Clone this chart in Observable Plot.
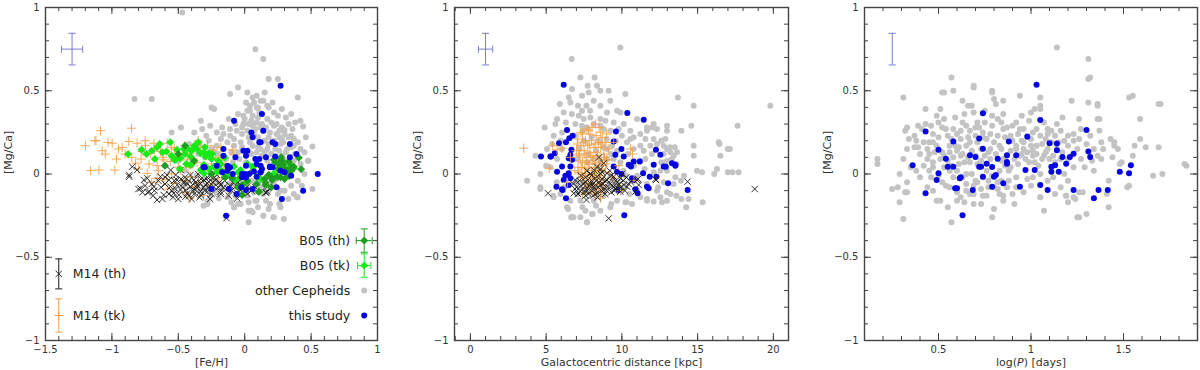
<!DOCTYPE html>
<html><head><meta charset="utf-8">
<script src="https://cdn.jsdelivr.net/npm/d3@7"></script>
<script src="https://cdn.jsdelivr.net/npm/@observablehq/plot@0.6"></script>
<style>
body{margin:0;background:#fff}
#row{display:flex;width:1200px;height:370px;overflow:hidden}
#row svg{flex:none;overflow:visible}
</style>
</head><body><div id="row"></div>
<script>
// ---------- tick labels ----------
const yTicks = [-1, -0.5, 0, 0.5, 1];
const xTicksFeH = [-1.5, -1, -0.5, 0, 0.5, 1];
const xTicksRgc = [0, 5, 10, 15, 20];
const xTicksLogP = [0.5, 1, 1.5];
const yLabel = "[Mg/Ca]";
const xLabels = ["[Fe/H]", "Galactocentric distance [kpc]", "log(P) [days]"];

// ---------- legend ----------
const legendRightLabels = ["B05 (th)", "B05 (tk)", "other Cepheids", "this study"];
const legendRightY = [-0.40, -0.55, -0.70, -0.85];
const legendRightX = 0.9;
const legendLeftLabels = ["M14 (th)", "M14 (tk)"];
const legendLeftY = [-0.60, -0.85];
const legendLeftX = -1.4;
const legendLeftYErr = [0.09, 0.10];
const legendRightXErr = [0.06, 0.05];
const legendRightYErr = [0.07, 0.07];

// typical error bars (top-left of each panel): x, y, xerr, yerr
const typErrX = [-1.3, 1.0, 0.25];
const typErrY = [0.75, 0.75, 0.75];
const typErrXErr = [0.08, 0.47, 0];
const typErrYErr = [0.095, 0.095, 0.095];

// ---------- panel 1: [Fe/H] vs [Mg/Ca] ----------
const fehOther = [[-0.47,0.97],[0.08,0.75],[0.14,0.69],[0.18,0.57],[0.25,0.57],[-0.05,0.52],[0.02,0.49],[0.40,0.46],[-0.83,0.45],[-0.70,0.45],[-0.25,0.40],[-0.23,0.39],[-0.11,0.48],[-0.33,0.32],[-0.55,0.25],[-0.48,0.28],[0.51,0.165],[0.475,0.08],[0.44,0.285],[0.42,0.32],[0.30,0.265],
[0.51,-0.09],[0.395,-0.14],[0.295,-0.27],[0.215,-0.26],[0.14,-0.25],[0.03,-0.29],[0.03,-0.22],[0.05,-0.22],[-0.08,-0.20],[-0.05,-0.18],[-0.28,-0.18],[-0.195,-0.146],[0.16,-0.16],[0.26,-0.18],[0.08,-0.16],[-0.32,0.27],[0.09,0.47],[0.15,0.49],
[0.07,0.43],[0.04,0.41],[0.01,0.43],[0.02,0.38],[0.12,0.44],[0.09,0.40],[0.06,0.35],[-0.01,0.35],[0.09,0.31],[0.17,0.33],[0.22,0.29],[0.26,0.26],[0.30,0.24],[0.35,0.23],[0.37,0.21],[0.37,0.17],[0.22,0.37],[0.17,0.41],[0.14,0.26],[-0.01,0.30],[-0.06,0.26],[-0.11,0.23],[-0.13,0.19],[-0.18,0.21],[-0.21,0.17],[-0.23,0.13],[-0.17,0.28],[-0.08,0.21],[-0.03,0.19],[0.04,0.19],[0.12,0.15],[0.17,0.15],[0.32,0.15],[0.37,0.08],[0.32,0.04],[0.27,0.04],[0.37,-0.12],[0.40,-0.14],[0.22,-0.06],[0.14,-0.12],[0.09,-0.16],[0.02,-0.13],[-0.03,-0.18],[-0.08,-0.20],[-0.13,-0.14],[-0.21,-0.12],[-0.26,-0.13],[-0.28,-0.16],[-0.31,-0.19],[-0.08,-0.08],[-0.01,-0.06],[0.12,-0.08],[0.19,-0.18],[0.27,-0.20],[0.22,-0.26],[0.14,-0.25],[0.06,-0.23],[-0.11,-0.10],[-0.18,-0.06],[-0.23,-0.05],[-0.28,-0.08],[-0.33,-0.10],[-0.36,-0.01],[-0.02,0.24],[-0.11,0.27],[0.06,0.29],[0.12,0.28],[0.18,0.22],[0.27,0.18],[0.28,0.21],[0.40,0.19],[0.42,0.15],[0.45,0.13],
[0.0,0.33],[0.03,0.30],[0.05,0.32],[0.08,0.27],[0.10,0.34],[0.13,0.30],[0.16,0.28],[0.20,0.31],[0.19,0.25],[0.24,0.24],[0.22,0.20],[0.26,0.14],[0.28,0.11],[0.30,0.08],[0.25,0.07],[0.20,0.12],[0.15,0.13],[0.10,0.16],[0.06,0.17],[0.03,0.22],[-0.02,0.16],[-0.05,0.13],[-0.08,0.17],[-0.10,0.13],[-0.14,0.09],[-0.18,0.08],[-0.20,0.12],[-0.25,0.15],[-0.27,0.20],[-0.30,0.10],[-0.35,0.12],[-0.40,0.05],[-0.05,0.36],[0.04,0.38],[0.11,0.37],[0.14,0.44],[0.18,0.40],[0.06,0.46],[0.25,0.35],[0.33,0.30],[0.35,0.16],[0.42,0.06],[0.45,0.0],[0.40,-0.04],[0.35,-0.07],[0.30,-0.10],[0.25,-0.12],[0.18,-0.10],[0.10,-0.06],[0.05,-0.04],[-0.05,-0.05],[-0.10,-0.03],[-0.15,-0.01],[-0.20,0.02],[-0.25,0.0],[-0.30,-0.03],[-0.35,-0.06],[0.0,-0.12],[0.07,-0.11],[0.15,-0.04],[0.20,-0.02],[-0.45,0.02],[-0.50,0.08],[-0.60,0.05],[-0.42,0.18],
[-0.02,0.28],[0.02,0.26],[0.07,0.24],[0.10,0.22],[0.15,0.20],[0.18,0.18],[0.23,0.15],[0.26,0.22],[0.29,0.19],[0.31,0.13],[0.33,0.22],[0.36,0.27],[0.38,0.12],[0.34,0.05],[0.29,0.01],[0.24,-0.03],[0.19,-0.06],[0.14,-0.08],[0.08,-0.05],[0.03,-0.08],[-0.03,-0.10],[-0.07,-0.13],[-0.12,-0.06],[-0.17,-0.09],[-0.22,-0.10],[-0.19,0.05],[-0.14,0.04],[-0.09,0.07],[-0.04,0.09],[0.01,0.07],[0.05,0.12],[0.09,0.13],[0.13,0.11],[0.17,0.08],[0.22,0.06],[-0.07,0.30],[-0.12,0.33],[-0.16,0.24],[-0.21,0.25],[-0.26,0.29],[-0.29,0.23],[-0.34,0.18],[-0.38,0.25],[0.10,0.40],[0.21,0.43],[0.28,0.39],[0.31,0.34],[0.24,0.30],[0.28,0.28],[0.35,0.36],[0.38,0.31],[0.46,0.22],[0.48,0.08],[0.43,-0.07],[0.33,-0.15],[0.27,-0.10],[0.18,-0.21],[0.10,-0.20],[0.03,-0.17],[-0.10,-0.17]];

const fehM14tk = [[-1.199,0.17],[-1.128,0.20],[-1.086,0.26],[-0.998,0.185],[-1.073,0.14],[-0.965,0.09],[-1.098,0.024],[-0.978,0.024],[-0.852,0.275],[-0.923,0.16],[-0.873,0.195],[-0.81,0.185],[-0.747,0.17],[-0.684,0.185],[-0.584,0.185],[-0.71,0.125],[-0.772,0.135],[-0.634,0.135],[-0.822,0.065],[-0.72,0.06],[-0.66,0.05],[-0.609,0.085],[-0.56,0.075],[-0.51,0.105],[-0.433,0.085],[-0.383,0.145],[-0.31,0.115],[-0.232,0.145],[-0.182,0.085],[-0.094,0.145],[-0.08,0.115],[-0.483,0.024],[-0.408,-0.016],[-0.383,-0.076],[-0.534,-0.056],[-0.609,-0.036],[-0.66,-0.026],[-0.734,0.004],[-1.16,0.02],[-1.03,0.19],[-1.12,0.20],[-0.55,0.16],[-0.45,0.17],[-0.35,0.20],[-0.28,0.17],[-0.50,0.04],[-0.42,0.04],[-0.30,0.03],[-0.25,0.06],[-0.15,0.05],[-0.20,-0.03],[-0.12,0.01],[-0.58,-0.09],[-0.45,-0.11],[-0.31,-0.13],[-0.41,-0.145],
[-0.90,0.12],[-0.85,0.10],[-0.78,0.09],[-0.75,0.20],[-0.68,0.15],[-0.62,0.10],[-0.57,0.12],[-0.53,0.15],[-0.47,0.12],[-0.43,0.13],[-0.40,0.09],[-0.36,0.07],[-0.33,0.16],[-0.27,0.11],[-0.22,0.10],[-0.18,0.16],[-0.65,0.02],[-0.55,0.0],[-0.45,-0.04],[-0.35,-0.05],[-0.25,-0.06],[-0.70,-0.05],[-0.80,0.03],[-0.95,0.15],[-1.05,0.12]];

const fehM14th = [[-0.847,0.044],[-0.81,0.024],[-0.87,-0.016],[-0.785,-0.086],[-0.76,-0.036],[-0.72,-0.106],[-0.66,-0.156],[-0.61,-0.126],[-0.571,-0.036],[-0.508,-0.066],[-0.458,-0.046],[-0.445,-0.096],[-0.483,0.024],[-0.408,-0.076],[-0.37,-0.096],[-0.332,-0.056],[-0.295,-0.066],[-0.27,-0.046],[-0.22,-0.036],[-0.182,-0.066],[-0.332,-0.126],[-0.283,-0.106],[-0.52,-0.006],[-0.558,0.024],[-0.408,-0.006],[-0.056,-0.147],[0.157,-0.112],[-0.634,-0.016],[-0.87,-0.006],[-0.80,-0.09],[-0.77,-0.11],[-0.73,-0.11],
[-0.559,-0.076],[-0.534,-0.116],[-0.509,-0.036],[-0.483,-0.096],[-0.458,-0.056],[-0.433,-0.116],[-0.408,-0.076],[-0.383,-0.036],[-0.358,-0.066],[-0.333,-0.106],[-0.283,-0.056],[-0.232,-0.076],[-0.182,-0.106],[-0.132,-0.086],[-0.082,-0.056],[-0.057,-0.116],[-0.032,-0.096],[0.018,-0.076],[0.17,-0.106],[-0.584,-0.006],[-0.734,-0.026],[-0.684,-0.076],[-0.496,-0.126],[-0.446,-0.136],[-0.308,-0.036],[-0.258,-0.016],[-0.207,-0.006],
[-0.60,-0.06],[-0.55,-0.10],[-0.45,-0.02],[-0.38,-0.12],[-0.30,-0.10],[-0.25,-0.12],[-0.20,-0.08],[-0.15,-0.04],[-0.10,-0.10],[-0.65,-0.04],[-0.70,-0.06],[-0.50,-0.15],[-0.40,-0.15],[-0.35,0.0],[-0.12,-0.02],[-0.05,-0.05],[0.05,-0.10],[-0.137,-0.265],[0.16,-0.11],
[-0.68,-0.10],[-0.63,-0.08],[-0.57,-0.12],[-0.52,-0.09],[-0.47,-0.08],[-0.43,-0.06],[-0.39,-0.10],[-0.36,-0.08],[-0.31,-0.08],[-0.27,-0.08],[-0.24,-0.05],[-0.19,-0.05],[-0.16,-0.08],[-0.11,-0.07],[-0.08,-0.04],[-0.03,-0.07],[-0.60,-0.02],[-0.53,-0.04],[-0.48,-0.03],[-0.42,-0.04],[-0.37,-0.05],[-0.33,-0.03],[-0.28,-0.02],[-0.23,-0.02],[-0.75,-0.07],[-0.69,-0.13],[-0.62,-0.15],[-0.54,-0.14],[-0.42,-0.13],[-0.34,-0.14],[-0.26,-0.15],[-0.18,-0.12],[-0.12,-0.13],[0.02,-0.12],[0.08,-0.08]];

const fehB05tk = [[-0.878,0.12],[-0.777,0.145],[-0.64,0.18],[-0.59,0.135],[-0.51,0.145],[-0.433,0.155],[-0.35,0.19],[-0.408,0.105],[-0.333,0.125],[-0.295,0.105],[-0.27,0.125],[-0.245,0.12],[-0.677,0.09],[-0.53,0.085],[-0.483,0.095],[-0.395,0.065],[-0.308,0.055],[-0.308,0.004],[-0.232,0.045],[-0.21,0.035],[-0.182,0.024],[-0.132,-0.006],[-0.08,0.045],[0.056,0.044],[0.094,-0.016],[-0.458,0.15],[-0.307,0.13],[-0.257,0.115],[-0.52,0.085],[-0.488,0.03],[-0.408,0.054],[-0.332,0.024],[-0.207,0.014],[-0.069,-0.036],[-0.031,0.024],[0.068,0.044],[0.29,0.067],[0.345,0.049],[0.37,0.035],[0.22,0.003],[0.018,-0.046],[0.12,-0.03],[-0.70,0.14],[-0.56,0.19],[-0.38,0.17],[-0.20,0.08],[-0.15,0.10],
[-0.62,0.13],[-0.55,0.11],[-0.45,0.12],[-0.40,0.14],[-0.36,0.15],[-0.30,0.16],[-0.25,0.09],[-0.18,0.06],[-0.12,0.03],[-0.05,0.01],[0.02,0.06],[-0.66,0.16],[-0.74,0.12],[-0.44,0.06],[-0.27,0.03]];

const fehB05th = [[-0.094,-0.026],[-0.019,-0.066],[0.107,-0.106],[0.182,-0.006],[0.207,-0.036],[0.27,0.094],[0.282,0.044],[0.32,0.024],[0.37,0.044],[0.333,-0.012],[0.245,-0.016],[0.157,-0.066],[0.275,0.10],[0.28,0.08],[0.257,0.06],[0.29,0.055],[0.30,0.024],[0.33,-0.006],[0.27,-0.02],[0.206,-0.026],[0.18,-0.006],[0.156,-0.052],[0.20,-0.08],[0.106,-0.106],[0.407,0.098],[0.425,0.028],[0.357,0.044],[0.332,0.074],[0.22,0.085],[-0.02,-0.126],[0.043,0.004],[0.12,0.01],[-0.50,0.12],[-0.45,0.17],[-0.60,0.05],[-0.38,0.08],[-0.25,0.0],[-0.15,-0.02],[-0.05,-0.08],
[0.25,0.03],[0.30,-0.03],[0.35,0.02],[0.23,0.07],[0.15,-0.03],[0.09,-0.06],[0.02,-0.04],[-0.03,-0.02]];

const fehThis = [[0.27,0.53],[-0.08,0.32],[0.13,0.36],[0.05,0.25],[0.14,0.26],[0.06,0.22],[0.12,0.19],[0.11,0.19],[0.21,0.19],[0.23,0.18],[0.34,0.18],[-0.16,0.15],[0.02,0.14],[-0.01,0.14],[-0.16,0.11],[0.01,0.11],[-0.07,0.10],[0.08,0.09],[0.11,0.09],[0.16,0.10],[0.23,0.105],[0.34,0.10],[0.39,0.12],[-0.31,0.04],[-0.21,0.05],[-0.13,0.05],[-0.11,0.04],[-0.13,0.02],[0.01,0.05],[0.09,0.06],[0.12,0.05],[0.19,0.04],[0.21,0.04],[0.12,0.01],[0.07,0.015],[0.0,0.0],[0.03,0.0],[0.27,0.02],[-0.02,-0.02],[0.01,-0.02],[0.09,-0.016],[0.55,0.0],[-0.025,-0.08],[0.01,-0.096],[0.06,-0.09],[0.24,-0.08],[0.44,-0.10],[0.28,-0.15],[-0.25,-0.09],[-0.12,-0.09],[-0.06,-0.12],[-0.14,-0.25],[-0.02,0.0],[0.35,-0.01],[0.30,0.01],[-0.17,0.01],[-0.09,0.0],[-0.30,0.04],[0.19,0.045],[0.13,0.03]];

// ---------- panel 2: Galactocentric distance vs [Mg/Ca] ----------
const rgcOther = [[7.26,0.58],[8.2,0.58],[7.74,0.53],[8.36,0.53],[6.71,0.51],[7.81,0.49],[8.58,0.50],[9.13,0.50],[10.23,0.48],[6.49,0.46],[7.37,0.47],[8.14,0.44],[9.24,0.44],[6.6,0.43],[7.1,0.41],[7.66,0.41],[8.58,0.41],[9.68,0.38],[6.16,0.37],[7.37,0.38],[9.02,0.37],[5.72,0.33],[7.15,0.35],[7.48,0.33],[7.92,0.34],[8.58,0.33],[8.91,0.32],[9.46,0.31],[10.12,0.30],[5.61,0.30],[6.05,0.25],[6.93,0.30],
[7.37,0.29],[7.7,0.28],[8.14,0.30],[8.58,0.29],[9.24,0.26],[9.79,0.27],[10.56,0.26],[10.78,0.22],[11.22,0.24],[11.66,0.26],[11.55,0.21],[12.32,0.27],[12.1,0.30],[12.98,0.26],[12.87,0.21],[12.32,0.18],[12.98,0.15],[13.42,0.11],[13.64,0.13],[13.31,0.09],[13.16,0.16],[11.88,0.17],[11.99,0.12],[11.55,0.09],[10.78,0.15],[10.34,0.19],[10.56,0.21],[9.35,0.17],[9.02,0.15],[9.46,0.09],[5.06,0.15],[5.28,0.04],[4.62,0.0],[4.29,0.11],[3.74,-0.04],[4.62,-0.08],[5.5,-0.14],[5.94,-0.12],[6.38,-0.20],[6.71,-0.26],[7.26,-0.26],[7.7,-0.29],[8.03,-0.24],[8.58,-0.22],[9.24,-0.20],[9.68,-0.16],[10.23,-0.17],[10.67,-0.18],[11.22,-0.14],[11.66,-0.16],[12.54,-0.14],[12.98,-0.16],[13.2,-0.12],[11.66,-0.06],[11.0,-0.10],[5.72,0.09],[5.5,0.23],[5.94,0.20],[6.05,0.15],[7.04,0.09],[7.7,0.07],[8.14,0.09],[8.58,0.07],[9.02,0.09],[9.24,-0.02],[8.8,-0.08],[8.14,-0.16],[7.26,-0.16],[7.04,-0.12],[9.68,-0.06],[10.23,-0.01],[11.0,-0.01],[12.1,0.01],[12.54,0.02],[12.98,0.02],[12.32,-0.10],[12.76,-0.05],[13.42,-0.06],[13.53,-0.02],[12.76,0.12],[12.87,0.07],[12.1,0.21],[11.22,0.17],[11.44,0.14],[9.68,0.14],[9.9,0.07],
[11.66,0.28],[12.0,0.28],[12.98,0.29],[13.7,0.46],[13.93,0.26],[14.59,0.29],[14.74,0.17],[14.74,0.11],[13.49,0.16],[13.2,0.13],[12.76,0.17],[12.6,0.20],[14.96,0.02],[15.29,0.01],[16.28,0.03],[16.39,0.19],[16.99,0.15],[17.13,0.15],[16.5,0.11],[17.64,0.29],[17.0,0.01],[17.3,0.01],[17.7,0.01],[16.1,0.0],[14.1,-0.01],[13.9,-0.04],[19.8,0.41],[14.74,0.41],[16.44,0.18],[9.9,0.76],[6.69,0.69],
[4.62,-0.09],[5.46,-0.13],[6.45,-0.21],[6.65,-0.26],[6.8,-0.26],[7.7,-0.29],[7.6,-0.22],[8.07,-0.24],[10.3,-0.17],[11.66,-0.15],[12.1,-0.165],[12.65,-0.17],[12.98,-0.11],[13.6,-0.13],[13.93,-0.15],[14.4,-0.15],[14.24,-0.20],[15.33,-0.17],[12.39,-0.08],
[7.5,0.20],[8.0,0.22],[8.5,0.20],[9.0,0.21],[7.2,0.15],[7.8,0.12],[8.3,0.14],[8.8,0.16],[9.3,0.12],[9.6,0.20],[10.0,0.23],[10.4,0.12],[10.8,0.05],[11.2,0.08],[11.5,0.03],[10.1,0.02],[6.9,0.23],[7.4,0.26],[6.3,0.31],[6.7,0.36],[5.9,0.42],[7.9,0.38],[8.8,0.27],[9.9,0.37],[11.0,0.33],[12.6,0.07],[13.0,0.08],[13.6,0.06],[5.0,0.05],[5.4,0.18],[4.9,0.28],[7.0,-0.05],[6.2,-0.08],[5.7,-0.05],[9.5,-0.04],[10.0,-0.09],[10.5,-0.12],[8.8,-0.13],[9.3,-0.18],[6.6,-0.16],[7.4,-0.20],[8.3,-0.19]];

const rgcM14tk = [[7.7,0.27],[8.25,0.30],[8.03,0.28],[8.5,0.28],[7.4,0.24],[7.9,0.24],[8.3,0.23],[8.7,0.22],[7.1,0.21],[7.6,0.20],[8.0,0.20],[8.45,0.19],[8.9,0.19],[7.3,0.17],[7.75,0.17],[8.15,0.16],[8.6,0.16],[9.1,0.15],[7.0,0.14],[7.5,0.14],[7.9,0.13],[8.35,0.13],[8.8,0.12],[7.2,0.11],[7.65,0.10],[8.1,0.10],[8.55,0.09],[9.0,0.085],[7.4,0.07],[7.85,0.06],[8.25,0.06],[8.7,0.05],[7.1,0.04],[7.55,0.03],[8.0,0.02],[8.45,0.02],[8.9,0.01],[7.3,0.0],[7.75,-0.01],[8.2,-0.02],[8.6,-0.03],[7.5,-0.04],[7.95,-0.05],[8.4,-0.06],[8.8,-0.07],[7.7,-0.08],[8.15,-0.09],[8.58,-0.146],[7.4,-0.12],[8.3,-0.12],[3.52,0.155],[5.43,0.17],[5.21,0.034],[10.56,0.15],[9.46,0.19],[9.02,0.085],[5.72,0.145],[6.05,0.155],[10.7,0.12],[9.8,0.05],[6.6,0.10],[6.9,0.02],[9.4,-0.02],[9.9,-0.10],[10.8,-0.04],[6.4,-0.05],
[7.3,0.25],[7.8,0.26],[8.6,0.25],[9.0,0.24],[7.05,0.18],[7.45,0.19],[7.85,0.18],[8.25,0.18],[8.7,0.18],[7.15,0.12],[7.55,0.12],[7.95,0.11],[8.4,0.11],[8.85,0.10],[7.25,0.08],[7.7,0.07],[8.05,0.08],[8.5,0.07],[8.95,0.06],[7.35,0.04],[7.8,0.035],[8.2,0.04],[8.65,0.03],[7.15,0.01],[7.6,0.0],[8.05,0.0],[8.5,-0.01],[7.4,-0.02],[7.9,-0.03],[8.3,-0.01],[8.7,-0.05],[7.6,-0.06],[8.05,-0.07],[8.45,-0.09],[7.9,-0.11],[8.6,-0.11]];

const rgcM14th = [[5.13,-0.116],[9.13,-0.267],[8.49,0.10],[11.0,-0.036],[12.21,-0.03],[7.66,-0.156],[18.77,-0.09],[14.34,-0.046],[12.25,-0.036],[11.07,-0.03],[6.82,-0.116],[7.04,-0.076],[7.26,-0.106],[7.7,-0.086],[7.92,-0.056],[8.14,-0.076],[8.36,-0.116],[8.58,-0.066],[8.8,-0.096],[9.02,-0.036],[9.24,-0.056],[9.46,-0.076],[9.68,-0.086],[9.9,-0.106],[10.12,-0.066],[10.34,-0.076],[10.56,-0.046],[10.89,-0.106],[11.11,-0.066],[8.36,-0.016],[8.58,0.004],[8.03,-0.006],[9.02,0.004],[9.46,-0.016],[9.9,-0.026],[8.36,0.044],[8.8,0.064],[7.48,-0.056],[6.93,-0.036],[7.2,-0.04],[7.6,-0.02],[8.0,-0.10],[8.3,-0.04],[8.7,-0.03],[9.1,-0.08],[9.3,-0.11],[9.6,-0.04],[7.8,-0.12],[8.9,-0.12],[9.8,-0.06],[10.3,-0.02],[7.4,-0.09],[8.6,0.03],[9.2,0.02],[6.9,-0.09],[10.0,0.0],[7.9,0.0],[8.1,-0.13],[9.5,-0.10],[7.1,-0.12],
[6.8,-0.06],[7.0,-0.10],[7.3,-0.07],[7.5,-0.11],[7.6,-0.05],[7.7,-0.10],[7.85,-0.07],[8.0,-0.04],[8.1,-0.06],[8.2,-0.09],[8.25,-0.12],[8.45,-0.08],[8.5,-0.05],[8.65,-0.10],[8.75,-0.06],[8.9,-0.04],[9.0,-0.10],[9.15,-0.05],[9.35,-0.07],[9.55,-0.09],[9.7,-0.05],[9.9,-0.08],[10.1,-0.04],[10.2,-0.10],[10.45,-0.06],[7.3,-0.01],[7.7,0.02],[8.2,0.02],[8.7,0.01],[9.3,-0.01],[8.4,-0.14],[7.6,-0.13]];

const rgcThis = [[6.16,0.536],[10.36,0.366],[11.44,0.326],[6.38,0.265],[9.61,0.255],[6.53,0.215],[6.75,0.23],[6.31,0.19],[5.85,0.185],[5.57,0.125],[4.66,0.105],[5.32,0.105],[6.67,0.145],[6.6,0.115],[6.49,0.095],[6.71,0.085],[9.46,0.195],[9.97,0.15],[9.57,0.115],[10.12,0.105],[12.25,0.145],[12.54,0.115],[10.78,0.075],[11.18,0.075],[10.45,0.055],[10.6,0.045],[9.46,0.045],[12.1,0.055],[12.76,0.045],[13.31,0.065],[13.53,0.055],[6.05,0.045],[6.6,0.045],[6.49,0.004],[5.72,0.014],[6.6,-0.026],[6.16,-0.036],[6.27,-0.01],[9.68,0.014],[9.97,0.0],[11.4,0.004],[10.67,-0.026],[10.78,-0.036],[11.84,-0.016],[12.28,-0.016],[13.05,-0.056],[6.49,-0.066],[5.68,-0.076],[6.05,-0.092],[6.31,-0.146],[9.79,-0.096],[10.89,-0.092],[11.04,-0.116],[11.66,-0.076],[11.77,-0.086],[10.16,-0.247],[14.34,-0.096],[6.09,-0.096],[12.9,0.044],[13.53,0.05],[5.28,0.105]];

// ---------- panel 3: log(P) vs [Mg/Ca] ----------
const logpOther = [[0.17,0.09],[0.17,0.06],[0.31,0.46],[0.32,0.26],[0.33,0.15],[0.31,0.09],[0.29,0.0],[0.25,-0.09],[0.29,-0.17],[0.31,-0.27],[0.33,-0.05],[0.33,-0.11],[0.37,0.23],[0.38,0.20],[0.39,0.16],[0.40,0.12],[0.39,0.29],[0.41,0.27],[0.44,0.09],[0.45,0.02],[0.46,-0.02],[0.47,0.24],[0.47,0.19],[0.48,0.13],[0.50,0.31],[0.51,0.39],[0.52,0.49],[0.53,0.33],[0.54,0.27],[0.55,0.23],[0.56,0.17],[0.57,0.58],[0.58,0.50],[0.59,0.34],[0.60,0.24],[0.61,0.16],[0.62,0.11],[0.64,0.07],[0.65,0.0],[0.65,-0.06],[0.67,-0.12],[0.69,-0.18],[0.70,0.23],[0.69,0.53],[0.68,0.41],[0.69,0.37],[0.71,0.31],[0.72,0.28],[0.73,0.15],[0.75,0.31],[0.76,0.21],[0.77,0.13],[0.78,0.09],[0.79,0.29],[0.79,0.50],[0.80,0.45],[0.81,0.42],[0.82,0.23],[0.83,0.17],[0.83,0.02],[0.84,-0.04],[0.85,0.27],[0.87,0.11],[0.89,0.23],[0.90,-0.12],[0.91,-0.18],[0.92,0.15],[0.92,0.17],[0.94,0.47],[0.94,0.27],[0.95,0.20],[0.96,0.15],[0.97,0.09],[0.99,0.32],[1.00,0.21],[1.01,0.14],[1.01,0.11],[1.02,0.07],[1.03,0.27],[1.05,0.46],[1.05,0.41],[1.06,0.18],[1.07,0.11],[1.08,0.21],[1.09,0.15],[1.10,0.09],[1.11,0.26],[1.13,0.23],[1.15,0.19],[1.16,0.09],[1.18,0.0],[1.20,-0.04],[1.22,0.44],[1.23,0.20],[1.25,0.15],[1.26,0.33],[1.27,0.27],[1.27,0.09],[1.29,0.04],[1.30,-0.24],[1.31,0.43],[1.32,0.58],[1.32,0.23],[1.34,0.02],[1.36,0.42],[1.37,0.33],[1.37,0.26],[1.38,0.19],[1.38,0.09],[1.41,-0.12],[1.42,-0.20],[1.43,0.21],[1.45,0.17],[1.47,0.15],[1.49,0.07],[1.52,-0.08],[1.53,0.46],[1.55,0.47],[1.56,0.17],[1.59,0.21],[1.59,0.33],[1.62,0.16],[1.66,-0.01],[1.69,0.42],[1.69,0.16],[1.71,0.0],[1.83,0.06],
[1.07,-0.22],[1.05,-0.14],[1.00,-0.07],[0.98,-0.03],[0.92,-0.02],[0.89,0.04],[0.85,0.09],[0.80,-0.08],[0.76,-0.13],[0.73,-0.18],[0.69,-0.12],[0.64,-0.17],[0.62,-0.14],[0.57,-0.29],[0.55,-0.20],[0.51,-0.16],[0.47,-0.10],[0.44,-0.08],[0.40,-0.02],[0.38,0.02],[0.35,0.04],[0.67,0.07],[0.70,0.11],[0.73,0.08],[0.76,0.02],[0.79,-0.01],[0.82,-0.05],[0.56,0.02],[0.58,-0.02],[0.53,0.04],[0.51,0.09],[0.47,0.04],[0.63,0.31],[0.65,0.29],[0.67,0.26],[0.62,0.21],[0.59,0.17],[0.65,0.17],[0.67,0.19],[0.71,0.19],[0.74,0.22],[0.79,0.35],[0.82,0.33],[0.84,0.31],[0.87,0.28],[0.90,0.29],[0.92,0.31],[0.96,0.27],[0.98,0.23],[1.01,0.25],[1.05,0.23],[1.09,0.24],[1.11,0.19],[1.14,0.15],[1.17,0.13],[1.20,0.17],[1.20,0.09],[1.23,0.04],[1.00,0.17],[1.03,0.17],[0.94,0.11],[0.91,0.09],[0.88,0.02],[0.84,0.15],[0.56,0.13],[0.53,0.11],[0.49,0.17],[0.44,0.15],[0.42,0.19],[0.46,0.29],[0.49,0.35],[0.43,0.30],[0.37,0.16],[0.34,0.21],[0.28,-0.08],[0.52,-0.05],[0.56,-0.08],[0.60,-0.11],[0.65,-0.10],[0.70,-0.04],[0.74,-0.02],[0.77,-0.08],[0.83,-0.12],[0.87,-0.08],[0.85,-0.16],[0.92,-0.08],[0.96,-0.11],[1.01,-0.02],[1.05,0.0],[1.09,-0.04],[1.12,-0.02],[1.16,-0.08],[1.19,-0.13],[1.23,-0.14],[1.26,-0.11],[1.26,-0.26],[1.09,0.27],[1.07,0.31],[1.00,0.37],[1.02,0.39],[1.14,0.30],[1.16,0.26],[1.20,0.23],[1.23,0.24],[1.26,0.21],[1.30,0.18],[1.34,0.15],[1.36,0.11],[1.39,0.15],
[1.14,0.76],[1.31,0.69],[1.31,0.57],[0.69,0.52],[0.53,0.49],[0.79,0.49],[1.36,0.41],[1.70,0.42],[1.84,0.05],[0.33,0.28],[0.43,0.39],[0.63,0.44],[0.66,0.41],[0.85,0.44],[1.05,0.39],[1.17,0.34],[1.36,0.33],[1.45,0.19],[1.44,0.10],[1.55,0.11],[1.33,0.08],[1.48,0.06],[1.42,-0.04],[1.53,-0.07],[0.32,-0.11],[0.79,-0.26],[0.80,-0.21],[0.49,-0.16],[1.05,-0.14],[1.20,-0.17],[1.24,-0.15],[1.25,-0.26],[1.19,-0.13],[1.28,-0.11],[1.13,-0.12],[0.85,-0.13],[0.74,-0.13],[0.60,-0.16],
[0.52,0.13],[0.55,0.08],[0.58,0.10],[0.60,0.14],[0.63,0.12],[0.66,0.10],[0.68,0.14],[0.71,0.06],[0.75,0.11],[0.78,0.15],[0.81,0.12],[0.84,0.08],[0.86,0.05],[0.89,0.14],[0.93,0.06],[0.95,0.12],[0.99,0.07],[1.03,0.12],[1.06,0.09],[1.08,0.13],[1.12,0.11],[1.04,0.05],[0.57,0.05],[0.60,0.02],[0.63,-0.02],[0.68,0.0],[0.71,-0.05],[0.77,-0.04],[0.54,-0.07],[0.50,-0.01],[0.47,0.07],[0.42,0.05],[0.45,0.12],[0.57,0.21],[0.62,0.26],[0.66,0.22],[0.70,0.28],[0.74,0.25],[0.78,0.24],[0.80,0.19],[0.86,0.22],[0.90,0.20],[0.93,0.24],[0.96,0.19],[0.61,0.06],[0.73,-0.09],[0.88,-0.04],[0.98,0.13],[1.13,0.07],[1.18,0.20],[0.50,0.22],[0.45,0.19],[0.52,0.28],[0.58,0.27],[0.64,0.36],[0.75,0.38],[0.85,0.36],[0.95,0.35],[0.69,-0.07],[0.82,-0.09]];

const logpThis = [[1.03,0.536],[0.74,0.365],[1.05,0.325],[0.43,0.255],[1.30,0.265],[0.98,0.223],[0.72,0.213],[0.88,0.195],[0.58,0.195],[1.10,0.185],[1.14,0.183],[0.74,0.152],[0.50,0.145],[1.14,0.143],[1.31,0.135],[1.23,0.122],[0.67,0.112],[0.70,0.102],[0.87,0.112],[0.92,0.112],[1.21,0.102],[1.32,0.102],[1.17,0.102],[0.54,0.092],[0.82,0.092],[0.87,0.072],[0.87,0.062],[1.19,0.062],[0.76,0.062],[0.36,0.052],[0.55,0.044],[0.58,0.044],[0.72,0.044],[0.73,0.044],[0.79,0.042],[1.13,0.052],[1.11,0.044],[1.54,0.052],[0.97,0.024],[1.02,0.024],[1.11,0.014],[1.15,0.014],[1.48,0.014],[1.53,0.004],[0.50,0.004],[0.81,-0.006],[0.80,-0.016],[0.62,-0.02],[0.615,-0.026],[0.74,-0.016],[0.49,-0.036],[0.85,-0.056],[1.05,-0.066],[0.59,-0.086],[0.60,-0.086],[0.685,-0.096],[0.79,-0.076],[0.94,-0.076],[1.09,-0.096],[1.23,-0.096],[1.365,-0.096],[1.415,-0.096],[0.43,-0.116],[1.34,-0.146],[0.63,-0.247]];

// ---------- styling ----------
const C = {
  other: "#c3c3c3", thisStudy: "#0505e0", m14th: "#1a1a1a", m14tk: "#f3a048",
  b05th: "#1e9e1e", b05tk: "#18ea18", err: "#7a7ad8", axis: "#444", text: "#333"
};
const W = 400, H = 370, MT = 7, MB = 30;
const fmt = d => (d < 0 ? "\u2212" : "") + Math.abs(d);
const capH = {draw(ctx, size) { const w = Math.sqrt(size / Math.PI); ctx.moveTo(-w, 0); ctx.lineTo(w, 0); }};
const capV = {draw(ctx, size) { const w = Math.sqrt(size / Math.PI); ctx.moveTo(0, -w); ctx.lineTo(0, w); }};
const X = d => d[0], Y = d => d[1];

function errorBars(items, color) {
  const ys = items.filter(d => d.ey > 0), xs = items.filter(d => d.ex > 0);
  const o = {stroke: color, strokeWidth: 1};
  return [
    Plot.ruleX(ys, {x: "x", y1: d => d.y - d.ey, y2: d => d.y + d.ey, ...o}),
    Plot.dot(ys, {x: "x", y: d => d.y - d.ey, symbol: capH, r: 3.5, fill: "none", ...o}),
    Plot.dot(ys, {x: "x", y: d => d.y + d.ey, symbol: capH, r: 3.5, fill: "none", ...o}),
    Plot.ruleY(xs, {y: "y", x1: d => d.x - d.ex, x2: d => d.x + d.ex, ...o}),
    Plot.dot(xs, {x: d => d.x - d.ex, y: "y", symbol: capV, r: 3.5, fill: "none", ...o}),
    Plot.dot(xs, {x: d => d.x + d.ex, y: "y", symbol: capV, r: 3.5, fill: "none", ...o})
  ];
}

const sty = {
  other: {fill: C.other, r: 3, stroke: "none"},
  thisStudy: {fill: C.thisStudy, r: 3, stroke: "none"},
  m14th: {symbol: "times", r: 3.0, stroke: C.m14th, strokeWidth: 0.9, fill: "none"},
  m14tk: {symbol: "plus", r: 3.1, stroke: C.m14tk, strokeWidth: 0.9, fill: "none"},
  b05th: {symbol: "diamond2", r: 3.6, fill: C.b05th, stroke: "none"},
  b05tk: {symbol: "diamond2", r: 3.6, fill: C.b05tk, stroke: "none"}
};

function panel(i, ml, mr, xDomain, xMajor, xMinor, marks) {
  const pw = W - ml - mr, ph = H - MT - MB;
  const yMinor = d3.range(-10, 11).map(k => k / 10);
  const t = {stroke: C.axis, strokeWidth: 1};
  const err = [{x: typErrX[i], y: typErrY[i], ex: typErrXErr[i], ey: typErrYErr[i]}];
  return Plot.plot({
    width: W, height: H, marginLeft: ml, marginRight: mr, marginTop: MT, marginBottom: MB,
    x: {domain: xDomain, axis: null},
    y: {domain: [-1, 1], axis: null},
    style: {fontFamily: "DejaVu Sans", color: C.text, background: "white", overflow: "visible"},
    marks: [
      ...marks,
      ...errorBars(err, C.err),
      Plot.tickX(xMajor, {x: d => d, insetTop: ph - 7, ...t}),
      Plot.tickX(xMajor, {x: d => d, insetBottom: ph - 7, ...t}),
      Plot.tickX(xMinor, {x: d => d, insetTop: ph - 4, ...t}),
      Plot.tickX(xMinor, {x: d => d, insetBottom: ph - 4, ...t}),
      Plot.tickY(yTicks, {y: d => d, insetRight: pw - 7, ...t}),
      Plot.tickY(yTicks, {y: d => d, insetLeft: pw - 7, ...t}),
      Plot.tickY(yMinor, {y: d => d, insetRight: pw - 4, ...t}),
      Plot.tickY(yMinor, {y: d => d, insetLeft: pw - 4, ...t}),
      Plot.frame({stroke: C.axis, strokeWidth: 1.4}),
      Plot.text(xMajor, {x: d => d, frameAnchor: "bottom", dy: 12, text: fmt, fontSize: 10, fill: C.text}),
      Plot.text(yTicks, {y: d => d, frameAnchor: "left", dx: -6, textAnchor: "end", text: fmt, fontSize: 10, fill: C.text}),
      Plot.text([xLabels[i]], {frameAnchor: "bottom", dy: 25, text: d => d, fontSize: 11, fill: C.text}),
      Plot.text([yLabel], {frameAnchor: "left", dx: -37, rotate: -90, text: d => d, fontSize: 11, fill: C.text})
    ]
  });
}

const legendRightStyles = [sty.b05th, sty.b05tk, sty.other, sty.thisStudy];
const legendRightErrColors = [C.b05th, C.b05tk];
const legendLeftStyles = [sty.m14th, sty.m14tk];
const legendLeftErrColors = [C.m14th, C.m14tk];

const legendMarks = [
  ...legendRightErrColors.flatMap((c, k) => errorBars([{x: legendRightX, y: legendRightY[k], ex: legendRightXErr[k], ey: legendRightYErr[k]}], c)),
  ...legendLeftErrColors.flatMap((c, k) => errorBars([{x: legendLeftX, y: legendLeftY[k], ex: 0, ey: legendLeftYErr[k]}], c)),
  ...legendRightStyles.map((s, k) => Plot.dot([[legendRightX, legendRightY[k]]], {x: X, y: Y, ...s})),
  ...legendLeftStyles.map((s, k) => Plot.dot([[legendLeftX, legendLeftY[k]]], {x: X, y: Y, ...s})),
  Plot.text(legendRightLabels, {x: () => legendRightX, y: (d, k) => legendRightY[k], text: d => d, dx: -14, textAnchor: "end", fontSize: 12.5, fill: "#222"}),
  Plot.text(legendLeftLabels, {x: () => legendLeftX, y: (d, k) => legendLeftY[k], text: d => d, dx: 14, textAnchor: "start", fontSize: 12.5, fill: "#222"})
];

const p1 = panel(0, 45, 23, [-1.5, 1], xTicksFeH, d3.range(-15, 11).map(k => k / 10), [
  Plot.dot(fehOther, {x: X, y: Y, ...sty.other}),
  Plot.dot(fehM14tk, {x: X, y: Y, ...sty.m14tk}),
  Plot.dot(fehM14th, {x: X, y: Y, ...sty.m14th}),
  Plot.dot(fehB05tk, {x: X, y: Y, ...sty.b05tk}),
  Plot.dot(fehB05th, {x: X, y: Y, ...sty.b05th}),
  Plot.dot(fehThis, {x: X, y: Y, ...sty.thisStudy}),
  ...legendMarks
]);
const p2 = panel(1, 54, 12, [-1.05, 21], xTicksRgc, d3.range(-1, 22), [
  Plot.dot(rgcOther, {x: X, y: Y, ...sty.other}),
  Plot.dot(rgcThis, {x: X, y: Y, ...sty.thisStudy}),
  Plot.dot(rgcM14tk, {x: X, y: Y, ...sty.m14tk}),
  Plot.dot(rgcM14th, {x: X, y: Y, ...sty.m14th})
]);
const p3 = panel(2, 64, 3, [0.1, 1.9], xTicksLogP, d3.range(1, 20).map(k => k / 10), [
  Plot.dot(logpOther, {x: X, y: Y, ...sty.other}),
  Plot.dot(logpThis, {x: X, y: Y, ...sty.thisStudy})
]);

const row = document.getElementById("row");
[p1, p2, p3].forEach(p => row.appendChild(p));

// italic P in the log(P) label
p3.querySelectorAll("text").forEach(t => {
  if (t.textContent === xLabels[2]) {
    t.textContent = "";
    const parts = [["log(", null], ["P", "italic"], [") [days]", null]];
    parts.forEach(([s, st]) => {
      const ts = document.createElementNS("http://www.w3.org/2000/svg", "tspan");
      ts.textContent = s; if (st) ts.setAttribute("font-style", st);
      t.appendChild(ts);
    });
  }
});
</script>
</body></html>
